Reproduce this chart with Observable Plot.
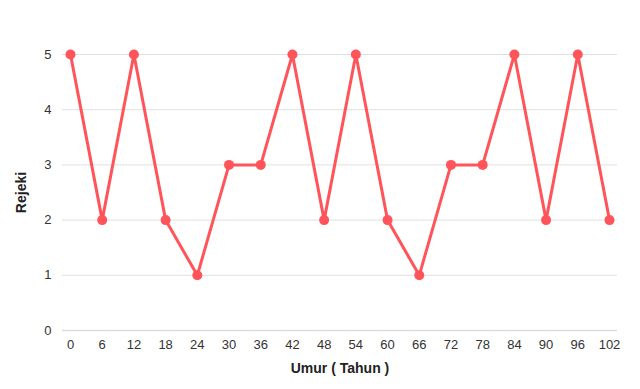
<!DOCTYPE html>
<html>
<head>
<meta charset="utf-8">
<script src="https://cdn.jsdelivr.net/npm/d3@7"></script>
<script src="https://cdn.jsdelivr.net/npm/@observablehq/plot@0.6"></script>
<style>
body { margin: 0; background: #fff; }
#chart svg { font-family: "Liberation Sans", Arial, sans-serif; }
g[aria-label="x-axis label"] text, g[aria-label="y-axis label"] text { font-weight: bold; font-size: 14px; fill: #222; }
g[aria-label="x-axis tick label"] text, g[aria-label="y-axis tick label"] text { fill: #333; }
</style>
</head>
<body>
<div id="chart"></div>
<script>
const umur = [0, 6, 12, 18, 24, 30, 36, 42, 48, 54, 60, 66, 72, 78, 84, 90, 96, 102];
const rejeki = [5, 2, 5, 2, 1, 3, 3, 5, 2, 5, 2, 1, 3, 3, 5, 2, 5, 2];
const yTicks = [0, 1, 2, 3, 4, 5];

const data = umur.map((u, i) => ({umur: u, rejeki: rejeki[i]}));
const color = "#ff5459";

const chart = Plot.plot({
  width: 640,
  height: 389,
  marginLeft: 62,
  marginRight: 23,
  marginTop: 54,
  marginBottom: 59,
  style: {fontSize: "13px", fontFamily: "'Liberation Sans', Arial, sans-serif", color: "#222", background: "#fff"},
  x: {domain: [0, 102], inset: 8},
  y: {domain: [0, 5]},
  marks: [
    Plot.gridY(yTicks, {stroke: "#e0e0e0", strokeOpacity: 1, strokeWidth: 1}),
    Plot.ruleY([0], {stroke: "#dcdcdc", strokeWidth: 1.5}),
    Plot.axisY(yTicks, {tickSize: 0, tickPadding: 11, tickFormat: "d", label: "Rejeki", labelAnchor: "center", labelArrow: "none", labelOffset: 46}),
    Plot.axisX(umur, {tickSize: 0, tickPadding: 9, tickFormat: "d", label: "Umur ( Tahun )", labelAnchor: "center", labelArrow: "none", labelOffset: 42}),
    Plot.line(data, {x: "umur", y: "rejeki", stroke: color, strokeWidth: 3}),
    Plot.dot(data, {x: "umur", y: "rejeki", fill: color, r: 5})
  ]
});
document.getElementById("chart").appendChild(chart);
</script>
</body>
</html>
